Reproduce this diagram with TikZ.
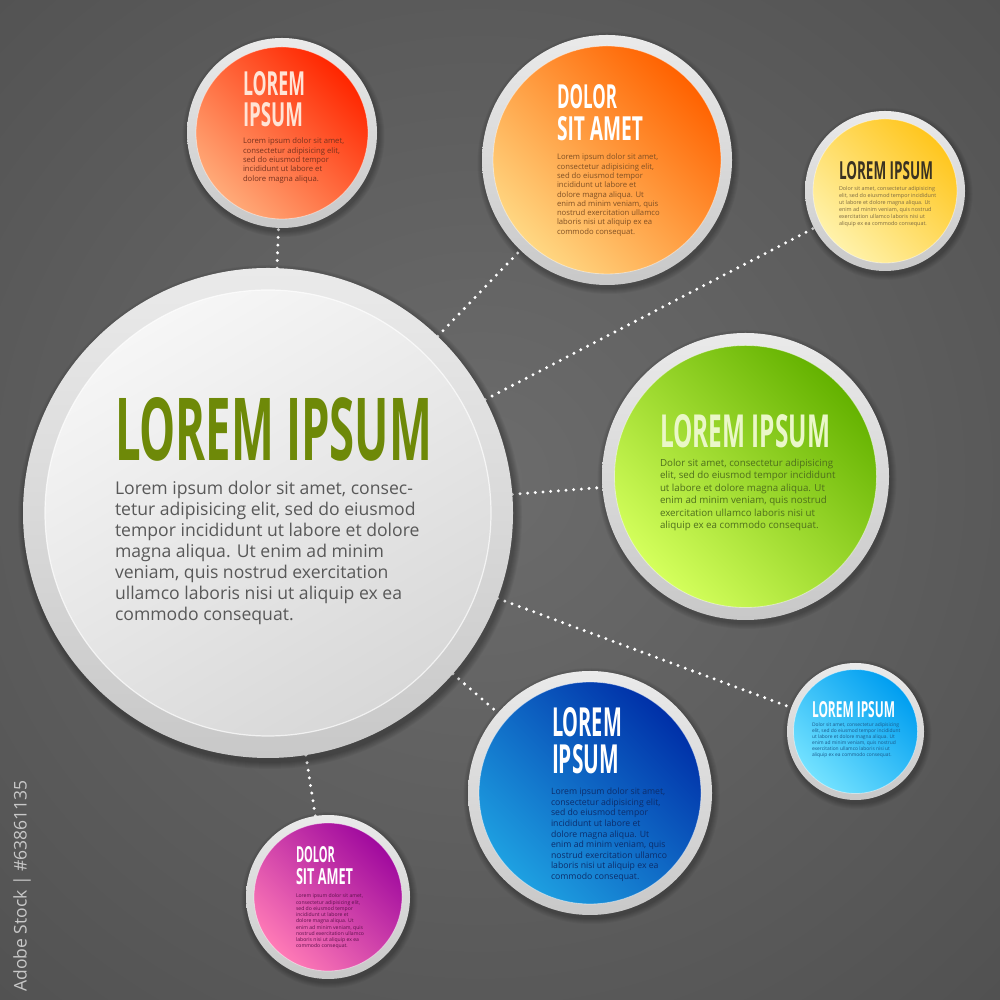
\documentclass[tikz,border=0pt]{standalone}
\usepackage{fontspec}
\setmainfont{Open Sans}
\newfontfamily\headfont{Open Sans}
\usepackage{graphicx}
\definecolor{bgin}{RGB}{108,108,108}
\definecolor{bgmid}{RGB}{82,82,82}
\definecolor{bgout}{RGB}{46,46,46}
\definecolor{ringA}{RGB}{234,234,234}
\definecolor{ringB}{RGB}{200,200,200}
\definecolor{bigA}{RGB}{246,246,246}
\definecolor{bigB}{RGB}{216,216,216}
\definecolor{redD}{RGB}{255,38,0}
\definecolor{redL}{RGB}{255,170,120}
\definecolor{orD}{RGB}{255,98,0}
\definecolor{orL}{RGB}{255,215,130}
\definecolor{yeD}{RGB}{255,198,30}
\definecolor{yeL}{RGB}{255,242,170}
\definecolor{grD}{RGB}{100,178,0}
\definecolor{grL}{RGB}{212,255,92}
\definecolor{lbD}{RGB}{0,158,240}
\definecolor{lbL}{RGB}{115,226,255}
\definecolor{blD}{RGB}{0,48,168}
\definecolor{blL}{RGB}{30,160,225}
\definecolor{mgD}{RGB}{160,10,158}
\definecolor{mgL}{RGB}{255,122,182}
\definecolor{bigHd}{RGB}{110,137,8}
\definecolor{bigTx}{RGB}{88,88,88}
\definecolor{redHd}{RGB}{255,228,214}
\definecolor{redTx}{RGB}{120,50,30}
\definecolor{orTx}{RGB}{128,80,36}
\definecolor{yeHd}{RGB}{58,50,34}
\definecolor{yeTx}{RGB}{125,106,66}
\definecolor{grHd}{RGB}{234,247,200}
\definecolor{grTx}{RGB}{78,110,28}
\definecolor{lbTx}{RGB}{26,90,140}
\definecolor{blTx}{RGB}{12,45,107}
\definecolor{mgTx}{RGB}{92,16,74}
\definecolor{stockTx}{RGB}{200,200,200}
\pgfdeclareradialshading{bgshade}{\pgfpoint{0bp}{0bp}}{color(0bp)=(bgin); color(25bp)=(bgmid); color(50bp)=(bgout)}
\newcommand\fsz[2]{\fontsize{#1}{#2}\selectfont}
\newcommand\hdtxt[3]{\resizebox{#1}{#2}{\headfont\bfseries #3}}
\newcommand\bub[5]{%
  \foreach \k in {2,4,...,12} \fill[black,opacity=0.045] ([xshift=1.5pt,yshift=-3pt]#1.center) circle ({#5+\k/2});
  \shade[top color=ringA,bottom color=ringB] (#1.center) circle (#5);
  \shade[top color=#3,bottom color=#4,shading angle=-45] (#1.center) circle (#2);
  \draw[white,opacity=0.45,line width=0.8pt] (#1.center) circle (#2);
}
\begin{document}
\begin{tikzpicture}[x=1pt,y=1pt,
  hole/.style={circle,inner sep=0pt,outer sep=0pt,minimum size=#1},
  conn/.style={draw=white,line width=3.3pt,line cap=round,dash pattern=on 0pt off 7.7pt},
  hd/.style={anchor=north west,inner sep=0pt,outer sep=0pt},
  body/.style={anchor=north west,inner sep=0pt,outer sep=0pt,align=left},
]
\useasboundingbox (0,0) rectangle (1000,1000);
\shade[shading=bgshade] (-240,-180) rectangle (1200,1220);
% anchor nodes of the bubbles
\node[hole=490pt] (big) at (268,487) {};
\node[hole=190pt] (red) at (282,867) {};
\node[hole=250pt] (orange) at (607,840) {};
\node[hole=160pt] (yellow) at (885,809) {};
\node[hole=287pt] (green) at (745.5,523.5) {};
\node[hole=137pt] (lblue) at (855.5,268.5) {};
\node[hole=244pt] (blue) at (590,207) {};
\node[hole=164pt] (mag) at (328,103) {};
% connectors
\draw[conn] (big) -- (red);
\draw[conn] (big) -- (orange);
\draw[conn] (big) -- (yellow);
\draw[conn] (big) -- (green);
\draw[conn] (big) -- (lblue);
\draw[conn] (big) -- (blue);
\draw[conn] (big) -- (mag);
% bubbles
\foreach \k in {2,4,...,14} \fill[black,opacity=0.045] ([xshift=2pt,yshift=-4pt]big.center) circle ({245+\k/2});
\shade[top color=ringA,bottom color=ringB] (big.center) circle (245);
\shade[top color=bigA,bottom color=bigB,shading angle=30] (big.center) circle (223);
\draw[white,opacity=0.7,line width=1.2pt] (big.center) circle (223);
\bub{red}{86}{redD}{redL}{95}
\bub{orange}{114}{orD}{orL}{125}
\bub{yellow}{72}{yeD}{yeL}{80}
\bub{green}{131}{grD}{grL}{143.5}
\bub{lblue}{62}{lbD}{lbL}{68.5}
\bub{blue}{111}{blD}{blL}{122}
\bub{mag}{74}{mgD}{mgL}{82}
% big circle text
\node[hd,text=bigHd] (bigh) at (115,602) {\hdtxt{317pt}{63pt}{LOREM IPSUM}};
\node[body,text=bigTx,font=\fsz{17.6}{21}] (bigb) at (115,519) {Lorem ipsum dolor sit amet, consec-\\tetur adipisicing elit, sed do eiusmod\\tempor incididunt ut labore et dolore\\magna aliqua. Ut enim ad minim\\veniam, quis nostrud exercitation\\ullamco laboris nisi ut aliquip ex ea\\commodo consequat.};
% red
\node[hd,text=redHd] (redh1) at (243,928) {\hdtxt{62pt}{24pt}{LOREM}};
\node[hd,text=redHd] (redh2) at (243,897) {\hdtxt{60pt}{24pt}{IPSUM}};
\node[body,text=redTx,font=\fsz{7.7}{9.3}] (redb) at (243,862) {Lorem ipsum dolor sit amet,\\consectetur adipisicing elit,\\sed do eiusmod tempor\\incididunt ut labore et\\dolore magna aliqua.};
% orange
\node[hd,text=white] (orh1) at (557,915) {\hdtxt{60pt}{24pt}{DOLOR}};
\node[hd,text=white] (orh2) at (557,883) {\hdtxt{86pt}{24pt}{SIT AMET}};
\node[body,text=orTx,font=\fsz{7.7}{9.3}] (orb) at (557,846) {Lorem ipsum dolor sit amet,\\consectetur adipisicing elit,\\sed do eiusmod tempor\\incididunt ut labore et\\dolore magna aliqua. Ut\\enim ad minim veniam, quis\\nostrud exercitation ullamco\\laboris nisi ut aliquip ex ea\\commodo consequat.};
% yellow
\node[hd,text=yeHd] (yeh) at (839,838) {\hdtxt{94pt}{18pt}{LOREM IPSUM}};
\node[body,text=yeTx,font=\fsz{5.4}{7}] (yeb) at (839,814) {Dolor sit amet, consectetur adipisicing\\elit, sed do eiusmod tempor incididunt\\ut labore et dolore magna aliqua. Ut\\enim ad minim veniam, quis nostrud\\exercitation ullamco laboris nisi ut\\aliquip ex ea commodo consequat.};
% green
\node[hd,text=grHd] (grh) at (660,585) {\hdtxt{170pt}{33pt}{LOREM IPSUM}};
\node[body,text=grTx,font=\fsz{9.75}{12.5}] (grb) at (660,541) {Dolor sit amet, consectetur adipisicing\\elit, sed do eiusmod tempor incididunt\\ut labore et dolore magna aliqua. Ut\\enim ad minim veniam, quis nostrud\\exercitation ullamco laboris nisi ut\\aliquip ex ea commodo consequat.};
% light blue
\node[hd,text=white] (lbh) at (812,298) {\hdtxt{83pt}{16pt}{LOREM IPSUM}};
\node[body,text=lbTx,font=\fsz{4.9}{6}] (lbb) at (812,277) {Dolor sit amet, consectetur adipisicing\\elit, sed do eiusmod tempor incididunt\\ut labore et dolore magna aliqua. Ut\\enim ad minim veniam, quis nostrud\\exercitation ullamco laboris nisi ut\\aliquip ex ea commodo consequat.};
% blue
\node[hd,text=white] (blh1) at (552,292) {\hdtxt{70pt}{29pt}{LOREM}};
\node[hd,text=white] (blh2) at (552,255) {\hdtxt{67pt}{29pt}{IPSUM}};
\node[body,text=blTx,font=\fsz{8.7}{10.6}] (blb) at (551,212) {Lorem ipsum dolor sit amet,\\consectetur adipisicing elit,\\sed do eiusmod tempor\\incididunt ut labore et\\dolore magna aliqua. Ut\\enim ad minim veniam, quis\\nostrud exercitation ullamco\\laboris nisi ut aliquip ex ea\\commodo consequat.};
% magenta
\node[hd,text=white] (mgh1) at (296,153) {\hdtxt{39pt}{16pt}{DOLOR}};
\node[hd,text=white] (mgh2) at (296,132) {\hdtxt{57pt}{16pt}{SIT AMET}};
\node[body,text=mgTx,font=\fsz{5.1}{6.25}] (mgb) at (296,106) {Lorem ipsum dolor sit amet,\\consectetur adipisicing elit,\\sed do eiusmod tempor\\incididunt ut labore et\\dolore magna aliqua. Ut\\enim ad minim veniam, quis\\nostrud exercitation ullamco\\laboris nisi ut aliquip ex ea\\commodo consequat.};
% stock id
\node[rotate=90,text=stockTx,font=\fsz{17.5}{17.5},inner sep=0pt] (stock) at (22,114) {Adobe Stock | \#63861135};
\end{tikzpicture}
\end{document}
